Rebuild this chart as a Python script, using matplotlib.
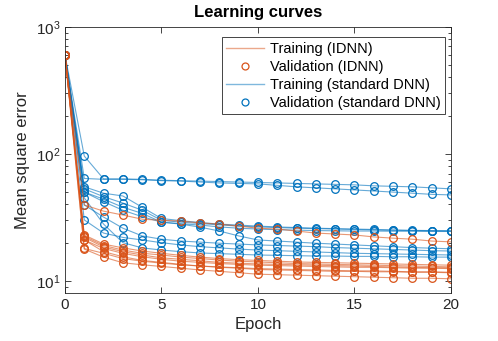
import numpy as np
import matplotlib
matplotlib.use('Agg')
import matplotlib.pyplot as plt
from matplotlib.ticker import LogLocator, NullFormatter

plt.rcParams['font.family'] = ['Liberation Sans', 'DejaVu Sans']

epochs = list(range(21))

# Standard DNN runs (mean square error per epoch)
dnn_runs = [
    [600, 96, 63.5, 63.5, 63, 62, 61.5, 61, 60.5, 60, 59.5, 59, 58.5, 58, 57.5, 57, 56, 55.5, 55, 54, 53],
    [600, 64, 63, 63, 62.5, 61.5, 61, 60, 59, 58.5, 58, 56.5, 55, 54, 53, 52, 51, 50, 49, 48, 47.5],
    [600, 55, 49, 46.6, 38, 31, 29.8, 28.8, 28, 27.5, 27, 26.6, 26.3, 26, 25.8, 25.6, 25.4, 25.2, 25, 24.9, 24.8],
    [600, 53, 46, 41, 36, 30, 29, 28.3, 27.6, 27, 26.6, 26.3, 26, 25.8, 25.6, 25.4, 25.2, 25, 24.9, 24.8, 24.7],
    [600, 50, 44, 38, 34, 29, 28.2, 27.5, 26.6, 26, 25.6, 25.3, 25.1, 24.9, 24.8, 24.7, 24.7, 24.6, 24.6, 24.5, 24.5],
    [600, 50, 42, 36, 32, 29, 28, 26.5, 24.7, 22.6, 21, 20.6, 20.2, 19.8, 19.5, 19.2, 18.9, 18.6, 18.3, 18.1, 17.9],
    [600, 39.6, 31.8, 26, 22.6, 21.3, 20.6, 20.2, 19.8, 19.5, 19.2, 19, 18.8, 18.6, 18.3, 18.1, 17.9, 17.7, 17.5, 17.3, 17.2],
    [600, 30.2, 23.8, 22, 21, 20, 19.2, 18.6, 18.2, 17.8, 17.5, 17.3, 17.1, 16.9, 16.7, 16.5, 16.4, 16.3, 16.2, 16.1, 16],
    [600, 45, 28, 20, 18.2, 17.5, 17, 16.6, 16.4, 16.2, 16, 15.9, 15.8, 15.7, 15.7, 15.6, 15.6, 15.5, 15.5, 15.4, 15.4],
]

# IDNN runs
idnn_runs = [
    [600, 39.6, 35.4, 33, 30.6, 30, 29.6, 28.6, 28, 27, 26, 25.6, 24.7, 23.8, 23.4, 23, 22.2, 21.7, 21.3, 20.6, 20.3],
    [600, 23, 19.5, 18.2, 17.2, 16.5, 15.9, 15.4, 15, 14.7, 14.5, 14.3, 14.1, 14, 13.9, 13.8, 13.7, 13.6, 13.5, 13.4, 13.3],
    [600, 22.5, 19, 17.5, 16.5, 16, 15.4, 15, 14.6, 14.3, 14.1, 13.9, 13.7, 13.6, 13.5, 13.4, 13.3, 13.2, 13.1, 13, 12.9],
    [600, 22, 18.5, 17, 16, 15.2, 14.8, 14.4, 14, 13.8, 13.6, 13.5, 13.4, 13.3, 13.2, 13.1, 13, 12.9, 12.8, 12.7, 12.7],
    [600, 21, 18, 16.5, 15.5, 14.8, 14.3, 14, 13.7, 13.5, 13.3, 13.2, 13.1, 13, 12.9, 12.8, 12.8, 12.7, 12.6, 12.6, 12.5],
    [600, 21, 17, 15.5, 14.5, 14, 13.5, 13.1, 12.8, 12.6, 12.3, 12.2, 12.1, 12, 11.9, 11.9, 11.8, 11.8, 11.7, 11.7, 11.6],
    [600, 17.8, 15.4, 13.9, 13.4, 13, 12.6, 12.2, 11.9, 11.6, 11.3, 11.2, 11.1, 11, 10.9, 10.8, 10.7, 10.6, 10.5, 10.5, 10.4],
    [600, 18, 16.5, 15, 14.3, 13.8, 13.4, 13.1, 12.9, 12.7, 12.5, 12.4, 12.3, 12.2, 12.1, 12, 12, 11.9, 11.8, 11.8, 11.7],
]

blue = '#0072BD'
orange = '#D95319'

fig = plt.figure(figsize=(4.98, 3.41), dpi=100)
ax = fig.add_axes([0.1305, 0.1408, 0.775, 0.7809])

for run in dnn_runs:
    ax.plot(epochs, run, color=blue, lw=0.8, alpha=0.6)
    ax.plot(epochs, run, 'o', color=blue, mfc='none', ms=5.5, mew=0.9)
for run in idnn_runs:
    ax.plot(epochs, run, color=orange, lw=0.8, alpha=0.6)
    ax.plot(epochs, run, 'o', color=orange, mfc='none', ms=5.5, mew=0.9)

ax.set_yscale('log')
ax.set_xlim(0, 20)
ax.set_ylim(8.04, 1000)
ax.set_xticks([0, 5, 10, 15, 20])
ax.yaxis.set_major_locator(LogLocator(base=10, numticks=5))
ax.yaxis.set_minor_locator(LogLocator(base=10, subs=np.arange(2, 10), numticks=10))
ax.yaxis.set_minor_formatter(NullFormatter())
ax.tick_params(which='both', direction='in', top=True, right=True, colors='#262626',
               labelsize=11, width=0.6)
ax.tick_params(which='major', length=4)
ax.tick_params(which='minor', length=2)
for s in ax.spines.values():
    s.set_color('#262626')
    s.set_linewidth(0.6)

ax.set_xlabel('Epoch', fontsize=12, color='#262626')
ax.set_ylabel('Mean square error', fontsize=12, color='#262626')
ax.set_title('Learning curves', fontsize=12, fontweight='bold', pad=7)

h1, = ax.plot([], [], color=orange, lw=1.0, alpha=0.5)
h2, = ax.plot([], [], 'o', color=orange, mfc='none', ms=5, mew=0.9)
h3, = ax.plot([], [], color=blue, lw=1.0, alpha=0.5)
h4, = ax.plot([], [], 'o', color=blue, mfc='none', ms=5, mew=0.9)
leg = ax.legend([h1, h2, h3, h4],
                ['Training (IDNN)', 'Validation (IDNN)',
                 'Training (standard DNN)', 'Validation (standard DNN)'],
                loc='upper right', bbox_to_anchor=(0.985, 0.96), fontsize=10.5,
                fancybox=False, framealpha=1, edgecolor='#262626',
                handlelength=2.6, handletextpad=0.4, labelspacing=0.28,
                borderpad=0.3, borderaxespad=0)
leg.get_frame().set_linewidth(0.6)

fig.savefig('out.png', dpi=100)
